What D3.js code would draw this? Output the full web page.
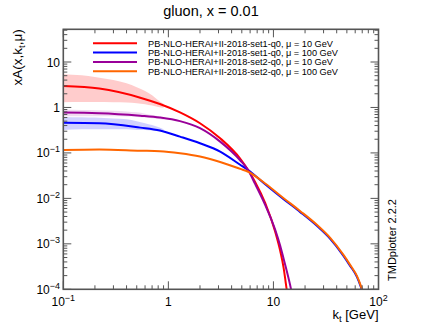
<!DOCTYPE html>
<html>
<head>
<meta charset="utf-8">
<script src="https://cdn.jsdelivr.net/npm/d3@7"></script>
<style>
  html, body { margin: 0; padding: 0; background: #fff; }
  svg { display: block; font-family: 'Liberation Sans', Arial, sans-serif; }
</style>
</head>
<body>
<div id="chart"></div>
<script>
// kt grids (GeV)
const ktMu10 = [0.1, 0.22, 0.54, 0.83, 1.29, 2.0, 3.11, 4.82, 5.74, 6.69, 8.34, 10.4, 11.6, 12.5, 13.1, 14.4, 15.1];
const ktMu100 = [0.1, 0.22, 0.54, 0.83, 1.29, 2.0, 3.11, 4.82, 5.74, 8.34, 12.5, 17.9, 25.9, 34.7, 46.4, 53.7, 62.3, 67.9, 71.5];

// central values xA(x,kt,mu)
const set1Mu10 = [2.95, 2.6, 1.64, 1.19, 0.78, 0.45, 0.21, 0.075, 0.042, 0.0231, 0.00796, 0.00184, 0.0007, 0.000297, 0.000139, 0.00003, 0.000015];
const set2Mu10 = [0.77, 0.75, 0.66, 0.6, 0.5, 0.35, 0.177, 0.069, 0.042, 0.0208, 0.00719, 0.00203, 0.000904, 0.00047, 0.00031, 0.000126, 0.000075];
const set1Mu100 = [0.46, 0.45, 0.36, 0.31, 0.228, 0.163, 0.107, 0.055, 0.042, 0.0205, 0.0096, 0.00505, 0.00249, 0.00129, 0.000545, 0.000328, 0.000188, 0.000113, 0.000076];
const set2Mu100 = [0.116, 0.119, 0.112, 0.109, 0.098, 0.083, 0.063, 0.0445, 0.0385, 0.0213, 0.0101, 0.0053, 0.00262, 0.00135, 0.00057, 0.000345, 0.000197, 0.000119, 0.00008];

// uncertainty bands at low kt
const ktBand = [0.1, 0.15, 0.2, 0.3, 0.4, 0.5, 0.6, 0.7, 0.8, 0.9];
const set1Mu10Up = [5.4, 5.1, 4.7, 4.0, 3.4, 2.8, 2.3, 1.85, 1.45, 1.2];
const set1Mu10Lo = [1.3, 1.32, 1.32, 1.3, 1.28, 1.24, 1.18, 1.1, 1.03, 0.98];
const set1Mu100Up = [0.62, 0.61, 0.6, 0.57, 0.55, 0.5, 0.45, 0.41, 0.37, 0.33];
const set1Mu100Lo = [0.32, 0.33, 0.33, 0.33, 0.33, 0.32, 0.32, 0.31, 0.30, 0.29];
const set2Mu10Up = [0.9, 0.88, 0.87, 0.85, 0.82, 0.78, 0.73, 0.68, 0.64, 0.6];
const set2Mu10Lo = [0.64, 0.64, 0.64, 0.64, 0.63, 0.62, 0.6, 0.58, 0.56, 0.54];

const legendLabels = [
  'PB-NLO-HERAI+II-2018-set1-q0, \u03bc = 10 GeV',
  'PB-NLO-HERAI+II-2018-set1-q0, \u03bc = 100 GeV',
  'PB-NLO-HERAI+II-2018-set2-q0, \u03bc = 10 GeV',
  'PB-NLO-HERAI+II-2018-set2-q0, \u03bc = 100 GeV'
];
const colors = ['#ff0000', '#0000ff', '#990099', '#ff6600'];

const xTickVals = [0.1, 1, 10, 100];
const xTickLabels = [['10', '\u22121'], ['1', ''], ['10', ''], ['10', '2']];
const yTickVals = [1e-4, 1e-3, 1e-2, 1e-1, 1, 10];
const yTickLabels = [['10', '\u22124'], ['10', '\u22123'], ['10', '\u22122'], ['10', '\u22121'], ['1', ''], ['10', '']];

const width = 421, height = 326;
const padL = 63.3, padR = 378.5, padT = 29.3, padB = 289.3;

const svg = d3.select('#chart').append('svg')
  .attr('width', width)
  .attr('height', height);

const x = d3.scaleLog().domain([0.1, 100]).range([padL, padR]);
const y = d3.scaleLog().domain([1e-4, 52.4]).range([padB, padT]);

svg.append('defs').append('clipPath').attr('id', 'plot-clip')
  .append('rect')
  .attr('x', padL).attr('y', padT)
  .attr('width', padR - padL).attr('height', padB - padT);

const plot = svg.append('g').attr('clip-path', 'url(#plot-clip)');

// Bands
const bands = [
  { up: set1Mu10Up, lo: set1Mu10Lo, fill: 'rgba(255,0,0,0.2)' },
  { up: set1Mu100Up, lo: set1Mu100Lo, fill: 'rgba(0,0,255,0.18)' },
  { up: set2Mu10Up, lo: set2Mu10Lo, fill: 'rgba(153,0,153,0.14)' }
];
const area = d3.area()
  .x(d => x(d.kt))
  .y0(d => y(d.lo))
  .y1(d => y(d.up))
  .curve(d3.curveMonotoneX);
bands.forEach(b => {
  plot.append('path')
    .datum(ktBand.map((k, i) => ({ kt: k, up: b.up[i], lo: b.lo[i] })))
    .attr('d', area)
    .attr('fill', b.fill)
    .attr('stroke', 'none');
});

// Curves
const series = [
  { kt: ktMu10, v: set1Mu10, color: colors[0] },
  { kt: ktMu100, v: set1Mu100, color: colors[1] },
  { kt: ktMu10, v: set2Mu10, color: colors[2] },
  { kt: ktMu100, v: set2Mu100, color: colors[3] }
];
const line = d3.line()
  .x(d => x(d[0]))
  .y(d => y(d[1]))
  .curve(d3.curveMonotoneX);
series.forEach(s => {
  plot.append('path')
    .datum(s.kt.map((k, i) => [k, s.v[i]]))
    .attr('d', line)
    .attr('fill', 'none')
    .attr('stroke', s.color)
    .attr('stroke-width', 2);
});

// Frame + ticks (ROOT style, inside, on all sides)
const axisColor = '#555';
const ax = svg.append('g').attr('stroke', axisColor).attr('fill', 'none');
ax.append('rect')
  .attr('x', padL).attr('y', padT)
  .attr('width', padR - padL).attr('height', padB - padT)
  .attr('stroke-width', 1.6);

const isMajor = v => Math.abs(Math.log10(v) - Math.round(Math.log10(v))) < 1e-6;

x.ticks().forEach(t => {
  const len = isMajor(t) ? 8 : 4;
  const px = x(t);
  ax.append('line').attr('x1', px).attr('x2', px).attr('y1', padB).attr('y2', padB - len).attr('stroke-width', 1);
  ax.append('line').attr('x1', px).attr('x2', px).attr('y1', padT).attr('y2', padT + len).attr('stroke-width', 1);
});
y.ticks().forEach(t => {
  const len = isMajor(t) ? 8 : 4;
  const py = y(t);
  ax.append('line').attr('x1', padL).attr('x2', padL + len).attr('y1', py).attr('y2', py).attr('stroke-width', 1);
  ax.append('line').attr('x1', padR).attr('x2', padR - len).attr('y1', py).attr('y2', py).attr('stroke-width', 1);
});

// Tick labels
const labels = svg.append('g').attr('fill', '#000').attr('font-size', 12);
xTickVals.forEach((v, i) => {
  const t = labels.append('text')
    .attr('x', x(v))
    .attr('y', 305.5)
    .attr('text-anchor', 'middle');
  t.append('tspan').text(xTickLabels[i][0]);
  if (xTickLabels[i][1]) {
    t.append('tspan').attr('font-size', 9).attr('dy', -5).text(xTickLabels[i][1]);
  }
});
yTickVals.forEach((v, i) => {
  const t = labels.append('text')
    .attr('x', 60)
    .attr('y', y(v) + 4.5)
    .attr('text-anchor', 'end');
  t.append('tspan').text(yTickLabels[i][0]);
  if (yTickLabels[i][1]) {
    t.append('tspan').attr('font-size', 9).attr('dy', -5).text(yTickLabels[i][1]);
  }
});

// Title
svg.append('text')
  .attr('x', 211).attr('y', 16)
  .attr('text-anchor', 'middle')
  .attr('font-size', 14.5)
  .text('gluon, x = 0.01');

// Axis titles
const xt = svg.append('text')
  .attr('x', padR).attr('y', 318.5)
  .attr('text-anchor', 'end')
  .attr('font-size', 13);
xt.append('tspan').text('k');
xt.append('tspan').attr('font-size', 9.5).attr('dy', 3).text('t');
xt.append('tspan').attr('dy', -3).text(' [GeV]');

const yt = svg.append('text')
  .attr('transform', `translate(22,${padT}) rotate(-90)`)
  .attr('text-anchor', 'end')
  .attr('font-size', 13.5);
yt.append('tspan').text('xA(x,k');
yt.append('tspan').attr('font-size', 9.5).attr('dy', 3).text('t');
yt.append('tspan').attr('dy', -3).text(',\u03bc)');

// Legend
const legendY = [43.3, 52.5, 62, 71.2];
const legendTextLen = [185, 190, 185, 190];
const lg = svg.append('g');
legendLabels.forEach((lab, i) => {
  lg.append('line')
    .attr('x1', 93).attr('x2', 137)
    .attr('y1', legendY[i]).attr('y2', legendY[i])
    .attr('stroke', colors[i]).attr('stroke-width', 2);
  lg.append('text')
    .attr('x', 148).attr('y', legendY[i] + 3.4)
    .attr('font-size', 9.4)
    .attr('textLength', legendTextLen[i])
    .attr('lengthAdjust', 'spacingAndGlyphs')
    .text(lab);
});

// Side label
svg.append('text')
  .attr('transform', 'translate(396,240) rotate(-90)')
  .attr('text-anchor', 'middle')
  .attr('font-size', 11)
  .text('TMDplotter 2.2.2');
</script>
</body>
</html>
